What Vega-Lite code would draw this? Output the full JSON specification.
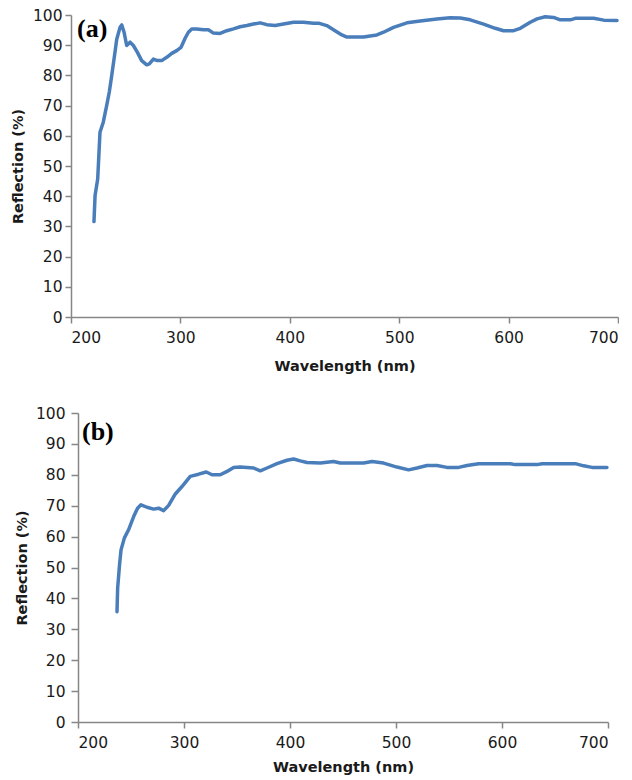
{
  "$schema": "https://vega.github.io/schema/vega-lite/v6.json",
  "background": "white",
  "padding": {"left": 10, "top": 8, "right": 0, "bottom": 2},
  "spacing": 33,
  "config": {
    "view": {"stroke": null},
    "axis": {
      "grid": false,
      "domainColor": "#868686",
      "tickColor": "#868686",
      "domainWidth": 1.5,
      "tickWidth": 1.5,
      "labelFont": "DejaVu Sans",
      "labelFontSize": 15.5,
      "labelColor": "#1a1a1a",
      "titleFont": "DejaVu Sans",
      "titleFontSize": 14.5,
      "titleFontWeight": "bold",
      "titleColor": "#1a1a1a"
    },
    "title": {"font": "Liberation Serif", "fontSize": 26, "fontWeight": "bold", "color": "#000000"}
  },
  "datasets": {
    "panelA": [
      {"wavelength": 221, "reflection": 31.6},
      {"wavelength": 222, "reflection": 40.2},
      {"wavelength": 224.4, "reflection": 45.7},
      {"wavelength": 226.5, "reflection": 61.2},
      {"wavelength": 229.5, "reflection": 64.5},
      {"wavelength": 232.6, "reflection": 70},
      {"wavelength": 235, "reflection": 74.5},
      {"wavelength": 237.2, "reflection": 79.9},
      {"wavelength": 240.2, "reflection": 87.7},
      {"wavelength": 241.8, "reflection": 92},
      {"wavelength": 244.8, "reflection": 95.9},
      {"wavelength": 246.4, "reflection": 96.7},
      {"wavelength": 248.5, "reflection": 94.3},
      {"wavelength": 250.9, "reflection": 89.9},
      {"wavelength": 254, "reflection": 91},
      {"wavelength": 257, "reflection": 89.9},
      {"wavelength": 260.6, "reflection": 87.7},
      {"wavelength": 264.6, "reflection": 84.9},
      {"wavelength": 269.2, "reflection": 83.5},
      {"wavelength": 271.6, "reflection": 83.8},
      {"wavelength": 275.3, "reflection": 85.4},
      {"wavelength": 278.9, "reflection": 84.9},
      {"wavelength": 282.9, "reflection": 84.9},
      {"wavelength": 287.5, "reflection": 86},
      {"wavelength": 292.1, "reflection": 87.3},
      {"wavelength": 296.6, "reflection": 88.2},
      {"wavelength": 300.6, "reflection": 89.3},
      {"wavelength": 304.3, "reflection": 92.3},
      {"wavelength": 307.3, "reflection": 94.3},
      {"wavelength": 310.4, "reflection": 95.4},
      {"wavelength": 315, "reflection": 95.4},
      {"wavelength": 321, "reflection": 95.1},
      {"wavelength": 325.6, "reflection": 95.1},
      {"wavelength": 330.2, "reflection": 94},
      {"wavelength": 336.3, "reflection": 93.9},
      {"wavelength": 342.4, "reflection": 94.8},
      {"wavelength": 348.5, "reflection": 95.4},
      {"wavelength": 354.6, "reflection": 96.1},
      {"wavelength": 360.7, "reflection": 96.5},
      {"wavelength": 366.8, "reflection": 97},
      {"wavelength": 372.9, "reflection": 97.4},
      {"wavelength": 379, "reflection": 96.8},
      {"wavelength": 386.6, "reflection": 96.5},
      {"wavelength": 394.2, "reflection": 97},
      {"wavelength": 403.4, "reflection": 97.6},
      {"wavelength": 412.5, "reflection": 97.6},
      {"wavelength": 421.7, "reflection": 97.3},
      {"wavelength": 426.2, "reflection": 97.3},
      {"wavelength": 433.8, "reflection": 96.5},
      {"wavelength": 439.9, "reflection": 95.1},
      {"wavelength": 447.6, "reflection": 93.4},
      {"wavelength": 452.2, "reflection": 92.7},
      {"wavelength": 467.4, "reflection": 92.7},
      {"wavelength": 479.6, "reflection": 93.4},
      {"wavelength": 485.7, "reflection": 94.3},
      {"wavelength": 494.8, "reflection": 95.9},
      {"wavelength": 507.1, "reflection": 97.4},
      {"wavelength": 519.2, "reflection": 98},
      {"wavelength": 534.5, "reflection": 98.7},
      {"wavelength": 546.6, "reflection": 99.1},
      {"wavelength": 555.8, "reflection": 99},
      {"wavelength": 564.9, "reflection": 98.4},
      {"wavelength": 577.1, "reflection": 97},
      {"wavelength": 587.8, "reflection": 95.6},
      {"wavelength": 595.4, "reflection": 94.8},
      {"wavelength": 604.6, "reflection": 94.8},
      {"wavelength": 610.7, "reflection": 95.6},
      {"wavelength": 619.8, "reflection": 97.6},
      {"wavelength": 626, "reflection": 98.7},
      {"wavelength": 633.5, "reflection": 99.4},
      {"wavelength": 641.1, "reflection": 99.2},
      {"wavelength": 647.2, "reflection": 98.4},
      {"wavelength": 656.4, "reflection": 98.4},
      {"wavelength": 661, "reflection": 98.9},
      {"wavelength": 677.7, "reflection": 98.9},
      {"wavelength": 686.9, "reflection": 98.3},
      {"wavelength": 699.1, "reflection": 98.2}
    ],
    "panelB": [
      {"wavelength": 236.8, "reflection": 35.7},
      {"wavelength": 237.4, "reflection": 43.3},
      {"wavelength": 239.2, "reflection": 50.9},
      {"wavelength": 240.6, "reflection": 55.7},
      {"wavelength": 243.7, "reflection": 59.5},
      {"wavelength": 247.7, "reflection": 62.2},
      {"wavelength": 252.5, "reflection": 66.5},
      {"wavelength": 256.2, "reflection": 69.2},
      {"wavelength": 259.4, "reflection": 70.3},
      {"wavelength": 265.1, "reflection": 69.5},
      {"wavelength": 271.3, "reflection": 68.9},
      {"wavelength": 276, "reflection": 69.2},
      {"wavelength": 280.8, "reflection": 68.4},
      {"wavelength": 285.5, "reflection": 70.1},
      {"wavelength": 291.8, "reflection": 73.8},
      {"wavelength": 298.1, "reflection": 76.2},
      {"wavelength": 305.9, "reflection": 79.5},
      {"wavelength": 313.8, "reflection": 80.2},
      {"wavelength": 321, "reflection": 80.9},
      {"wavelength": 326.4, "reflection": 80},
      {"wavelength": 334.2, "reflection": 80},
      {"wavelength": 340.6, "reflection": 81.1},
      {"wavelength": 346.8, "reflection": 82.4},
      {"wavelength": 353.1, "reflection": 82.5},
      {"wavelength": 365.7, "reflection": 82.2},
      {"wavelength": 372, "reflection": 81.3},
      {"wavelength": 378.3, "reflection": 82.2},
      {"wavelength": 387.7, "reflection": 83.6},
      {"wavelength": 397.2, "reflection": 84.7},
      {"wavelength": 403.4, "reflection": 85.1},
      {"wavelength": 409.7, "reflection": 84.5},
      {"wavelength": 416, "reflection": 84},
      {"wavelength": 428.6, "reflection": 83.8},
      {"wavelength": 441.1, "reflection": 84.3},
      {"wavelength": 447.5, "reflection": 83.8},
      {"wavelength": 469.4, "reflection": 83.8},
      {"wavelength": 477.4, "reflection": 84.3},
      {"wavelength": 488.3, "reflection": 83.8},
      {"wavelength": 500.9, "reflection": 82.5},
      {"wavelength": 511.9, "reflection": 81.6},
      {"wavelength": 519.8, "reflection": 82.2},
      {"wavelength": 529.2, "reflection": 83},
      {"wavelength": 538.7, "reflection": 83},
      {"wavelength": 548.1, "reflection": 82.4},
      {"wavelength": 559.1, "reflection": 82.4},
      {"wavelength": 567, "reflection": 83},
      {"wavelength": 577.9, "reflection": 83.6},
      {"wavelength": 607.8, "reflection": 83.6},
      {"wavelength": 612.5, "reflection": 83.3},
      {"wavelength": 633, "reflection": 83.3},
      {"wavelength": 637.7, "reflection": 83.6},
      {"wavelength": 669.2, "reflection": 83.6},
      {"wavelength": 677, "reflection": 82.9},
      {"wavelength": 684.9, "reflection": 82.4},
      {"wavelength": 699, "reflection": 82.4}
    ]
  },
  "vconcat": [
    {
      "width": 547,
      "height": 302,
      "title": {"text": "(a)", "anchor": "start", "frame": "group", "baseline": "top", "offset": -34, "dx": 6},
      "data": {"name": "panelA"},
      "mark": {"type": "line", "color": "#4a7ebb", "strokeWidth": 3.5, "strokeJoin": "round", "strokeCap": "round"},
      "encoding": {
        "x": {
          "field": "wavelength", "type": "quantitative",
          "scale": {"domain": [200, 700], "nice": false, "zero": false},
          "axis": {"title": "Wavelength (nm)", "values": [200, 300, 400, 500, 600, 700], "tickSize": 6, "labelPadding": 7, "titlePadding": 14}
        },
        "y": {
          "field": "reflection", "type": "quantitative",
          "scale": {"domain": [0, 100], "nice": false},
          "axis": {"title": "Reflection (%)", "values": [0, 10, 20, 30, 40, 50, 60, 70, 80, 90, 100], "tickSize": 6, "labelPadding": 3, "titlePadding": 7}
        }
      }
    },
    {
      "width": 537,
      "height": 309,
      "title": {"text": "(b)", "anchor": "start", "frame": "group", "baseline": "top", "offset": -39, "dx": 11},
      "data": {"name": "panelB"},
      "mark": {"type": "line", "color": "#4a7ebb", "strokeWidth": 3.5, "strokeJoin": "round", "strokeCap": "round"},
      "encoding": {
        "x": {
          "field": "wavelength", "type": "quantitative",
          "scale": {"domain": [200, 700], "nice": false, "zero": false, "range": [7, 537]},
          "axis": {"title": "Wavelength (nm)", "values": [200, 300, 400, 500, 600, 700], "tickSize": 6, "labelPadding": 7, "titlePadding": 10}
        },
        "y": {
          "field": "reflection", "type": "quantitative",
          "scale": {"domain": [0, 100], "nice": false},
          "axis": {"title": "Reflection (%)", "values": [0, 10, 20, 30, 40, 50, 60, 70, 80, 90, 100], "offset": -7, "tickSize": 7, "labelPadding": 6, "titlePadding": 6}
        }
      }
    }
  ]
}
